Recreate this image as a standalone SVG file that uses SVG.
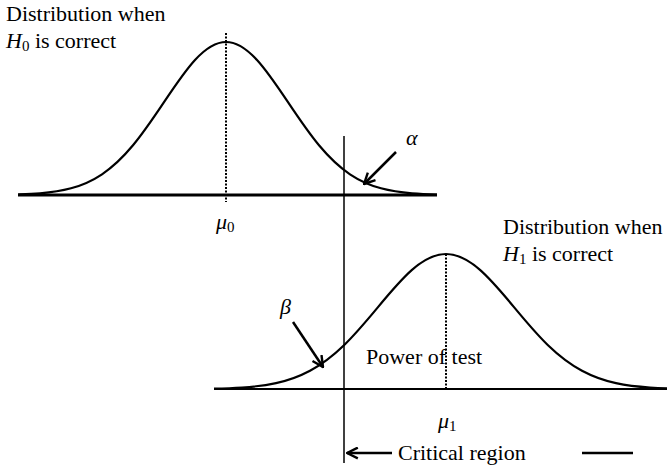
<svg xmlns="http://www.w3.org/2000/svg" width="672" height="472" viewBox="0 0 672 472">
<defs>
<style>
.t{font-family:"Liberation Serif","Times New Roman",serif;font-size:22px;fill:#000}
.i{font-style:italic}
.sub{font-size:15px}
.crv{fill:none;stroke:#000;stroke-width:2.2}
.ax{stroke:#000;fill:none}
.dot{stroke:#000;stroke-width:2;stroke-dasharray:2 1.5;fill:none}
.arr{stroke:#000;stroke-width:2.5;fill:none;marker-end:url(#ah)}
</style>
<marker id="ah" viewBox="0 0 12 12" refX="11" refY="6" markerWidth="13" markerHeight="13" markerUnits="userSpaceOnUse" orient="auto">
<path d="M1,1 L11,6 L1,11" fill="none" stroke="#000" stroke-width="2.2"/>
</marker>
</defs>
<rect width="672" height="472" fill="#fff"/>

<g id="dist-h0">
<line class="ax" x1="18" y1="195" x2="437" y2="195" stroke-width="3"/>
<path class="crv" d="M18,194.5 C23.33,194.28 31.670,193.98 40,193.3 C50.33,192.45 60.67,191.1 71,188.3 C81.33,185.5 91.67,181.2 102,174.3 C112.33,167.4 122.67,157.72 133,145.3 C143.33,132.88 153.67,117.67 164,102.2 C174.33,86.73 184.67,71.25 195,60 C205.33,48.75 215.67,42 226,42 C236.33,42 246.67,48.75 257,60 C267.33,71.25 277.67,86.73 288,102.2 C298.33,117.67 308.67,132.88 319,145.3 C329.33,157.72 339.67,167.4 350,174.3 C360.33,181.2 370.67,185.5 381,188.3 C391.33,191.1 401.67,192.45 412,193.3 C420.33,193.98 428.67,194.28 437,194.5"/>
<line class="dot" x1="226" y1="33" x2="226" y2="202"/>
<text class="t" x="6" y="21">Distribution when</text>
<text class="t" x="6" y="48"><tspan class="i">H</tspan><tspan class="sub" dy="3">0</tspan><tspan dy="-3"> is correct</tspan></text>
<text class="t" x="216" y="229"><tspan class="i">μ</tspan><tspan class="sub" dy="3">0</tspan></text>
</g>

<g id="dist-h1">
<line class="ax" x1="214" y1="389" x2="667" y2="389" stroke-width="2"/>
<path class="crv" d="M214,388.6 C223.33,388.41 232.67,388.12 242,387.5 C253.33,386.75 264.67,385.57 276,383.1 C287.33,380.63 298.67,376.78 310,370.7 C321.33,364.62 332.67,356.16 344,345.2 C355.33,334.24 366.67,320.74 378,307.1 C389.33,293.46 400.67,279.83 412,269.9 C423.33,259.97 434.67,254 446,254 C457.33,254 468.67,259.97 480,269.9 C491.33,279.83 502.67,293.46 514,307.1 C525.33,320.74 536.67,334.24 548,345.2 C559.33,356.16 570.67,364.62 582,370.7 C593.33,376.78 604.67,380.63 616,383.1 C627.33,385.57 638.67,386.75 650,387.5 C655.67,387.87 661.33,388.11 667,388.3"/>
<line class="dot" x1="446" y1="254" x2="446" y2="389"/>
<text class="t" x="503" y="234">Distribution when</text>
<text class="t" x="503" y="261"><tspan class="i">H</tspan><tspan class="sub" dy="3">1</tspan><tspan dy="-3"> is correct</tspan></text>
<text class="t" x="438" y="428"><tspan class="i">μ</tspan><tspan class="sub" dy="3">1</tspan></text>
<text class="t" x="366" y="364">Power of test</text>
</g>

<g id="critical">
<line class="ax" x1="344" y1="136" x2="344" y2="463" stroke-width="1.5"/>
<text class="t" x="398" y="460">Critical region</text>
<line class="ax" x1="582" y1="453" x2="633" y2="453" stroke-width="2.5"/>
</g>

<g id="labels">
<text class="t i" x="406" y="145">α</text>
<text class="t i" x="280" y="314">β</text>
</g>

<g id="connectors">
<line class="arr" x1="396" y1="152" x2="364" y2="184"/>
<line class="arr" x1="293" y1="322" x2="323" y2="367"/>
<line class="arr" x1="392" y1="453" x2="347" y2="453"/>
</g>
</svg>
